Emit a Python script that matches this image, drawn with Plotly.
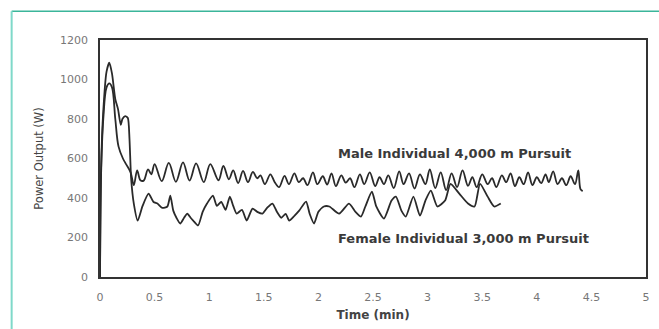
import plotly.graph_objects as go

male_time = [0, 0.01, 0.03, 0.06, 0.085, 0.11, 0.14, 0.17, 0.21, 0.24, 0.28, 0.31, 0.34, 0.37, 0.40, 0.44, 0.47,
             0.50, 0.565, 0.63, 0.695, 0.76, 0.82, 0.88, 0.95, 1.01, 1.085, 1.13, 1.18, 1.22, 1.265, 1.31, 1.355,
             1.40, 1.44, 1.47, 1.51, 1.56, 1.60, 1.64, 1.69, 1.73, 1.78, 1.82, 1.86, 1.90, 1.95, 1.99, 2.04,
             2.08, 2.12, 2.16, 2.21, 2.25, 2.29, 2.33, 2.38, 2.42, 2.47, 2.52, 2.56, 2.60, 2.64, 2.69, 2.74,
             2.78, 2.83, 2.88, 2.93, 2.98, 3.02, 3.07, 3.12, 3.17, 3.22, 3.27, 3.32, 3.37, 3.41, 3.45, 3.50,
             3.55, 3.59, 3.63, 3.68, 3.72, 3.76, 3.80, 3.84, 3.88, 3.92, 3.96, 4.00, 4.04, 4.08, 4.11, 4.15,
             4.19, 4.23, 4.27, 4.31, 4.35, 4.38, 4.40, 4.42]
male_power = [0, 520, 800, 960, 980, 960, 800, 660, 600, 570, 530, 465, 540, 490, 488, 545, 520,
              572, 485, 578, 482, 580, 488, 575, 480, 572, 490, 562, 495, 540, 475, 537, 480,
              532, 500, 515, 470, 520, 480, 455, 512, 470, 525, 480, 500, 465, 530, 470, 510,
              468, 525, 460, 515, 478, 500, 455, 520, 470, 530, 460, 505, 470, 515, 450, 535,
              470, 525, 448, 520, 470, 545, 450, 530, 440, 525, 455, 540, 462, 505, 455, 520,
              470, 500, 455, 515, 480, 525, 460, 505, 470, 530, 465, 505, 475, 520, 480, 535,
              470, 500, 465, 510, 470, 540, 445, 435]

female_time = [0, 0.01, 0.03, 0.06, 0.085, 0.11, 0.14, 0.165, 0.19, 0.205, 0.23, 0.255, 0.27, 0.285, 0.31,
               0.345, 0.39, 0.445, 0.49, 0.526, 0.57, 0.617, 0.644, 0.671, 0.70, 0.735, 0.77, 0.799, 0.83,
               0.853, 0.898, 0.94, 0.98, 1.034, 1.07, 1.11, 1.15, 1.189, 1.22, 1.252, 1.30, 1.343, 1.397,
               1.44, 1.488, 1.53, 1.579, 1.62, 1.66, 1.70, 1.733, 1.78, 1.824, 1.887, 1.92, 1.96, 2.00,
               2.05, 2.10, 2.19, 2.28, 2.34, 2.39, 2.43, 2.49, 2.53, 2.60, 2.67, 2.71, 2.76, 2.80, 2.87,
               2.93, 2.98, 3.03, 3.09, 3.16, 3.21, 3.29, 3.37, 3.43, 3.48, 3.55, 3.61, 3.67]
female_power = [0, 550, 840, 1040, 1085, 1030, 900, 850, 770, 800, 815, 805, 700, 500, 370,
                285, 360, 422, 380, 372, 350, 357, 412, 336, 300, 271, 300, 321, 300,
                286, 261, 330, 372, 412, 360, 380, 340, 407, 360, 321, 340, 286, 346,
                330, 321, 350, 372, 330, 300, 320, 286, 310, 336, 382, 320, 271, 330,
                357, 357, 321, 372, 330, 306, 357, 432, 357, 296, 387, 407, 336, 306, 407,
                311, 387, 437, 357, 387, 472, 422, 372, 357, 472, 407, 357, 372]

x_ticks = [0, 0.5, 1, 1.5, 2, 2.5, 3, 3.5, 4, 4.5, 5]
x_tick_labels = ["0", "0.5", "1", "1.5", "2", "2.5", "3", "3.5", "4", "4.5", "5"]
y_ticks = [0, 200, 400, 600, 800, 1000, 1200]

male_label = "Male Individual 4,000 m Pursuit"
female_label = "Female Individual 3,000 m Pursuit"

line_color = "#2a2a2a"
FONT = "DejaVu Sans"

fig = go.Figure()
fig.add_trace(go.Scatter(x=male_time, y=male_power, mode="lines",
                         line=dict(color=line_color, width=1.8, shape="spline", smoothing=1.0),
                         name=male_label, showlegend=False))
fig.add_trace(go.Scatter(x=female_time, y=female_power, mode="lines",
                         line=dict(color=line_color, width=1.8, shape="spline", smoothing=0.6),
                         name=female_label, showlegend=False))

fig.add_annotation(x=2.16, y=623, text="<b>" + male_label + "</b>", showarrow=False,
                   xanchor="left", yanchor="middle", xshift=0,
                   font=dict(family=FONT, size=13, color="#3a3a3a"))
fig.add_annotation(x=2.16, y=196, text="<b>" + female_label + "</b>", showarrow=False,
                   xanchor="left", yanchor="middle", xshift=0,
                   font=dict(family=FONT, size=13, color="#3a3a3a"))

# teal frame
W, H = 659, 329
L, R, T, B = 100, 9, 40, 50
pw, ph = W - L - R, H - T - B
def px(xp):
    return (xp - L) / pw
def py(yp):
    return (H - B - yp) / ph
fig.add_shape(type="line", xref="paper", yref="paper", x0=px(11), x1=px(700), y0=py(11), y1=py(11),
              line=dict(color="#3bb59a", width=1.5))
fig.add_shape(type="line", xref="paper", yref="paper", x0=px(11), x1=px(11), y0=py(11), y1=py(360),
              line=dict(color="#7fd9c9", width=2))

fig.update_layout(
    width=W, height=H,
    margin=dict(l=L, r=R, t=T, b=B),
    plot_bgcolor="white", paper_bgcolor="white",
    font=dict(family=FONT, color="#555"),
)
fig.update_xaxes(range=[0, 5], tickvals=x_ticks, ticktext=x_tick_labels, showgrid=False, zeroline=False,
                 showline=True, mirror=True, linecolor="#333", linewidth=1.5,
                 ticks="outside", ticklen=9, tickcolor="rgba(0,0,0,0)",
                 tickfont=dict(family=FONT, size=11, color="#777"),
                 title=dict(text="<b>Time (min)</b>", font=dict(family=FONT, size=12, color="#444"), standoff=8))
fig.update_yaxes(range=[0, 1200], tickvals=y_ticks, showgrid=False, zeroline=False,
                 showline=True, mirror=True, linecolor="#333", linewidth=1.5,
                 ticks="outside", ticklen=8, tickcolor="rgba(0,0,0,0)",
                 tickfont=dict(family=FONT, size=11, color="#777"),
                 title=dict(text="Power Output (W)", font=dict(family=FONT, size=11.5, color="#444"), standoff=14))

fig.write_html("out.html")
